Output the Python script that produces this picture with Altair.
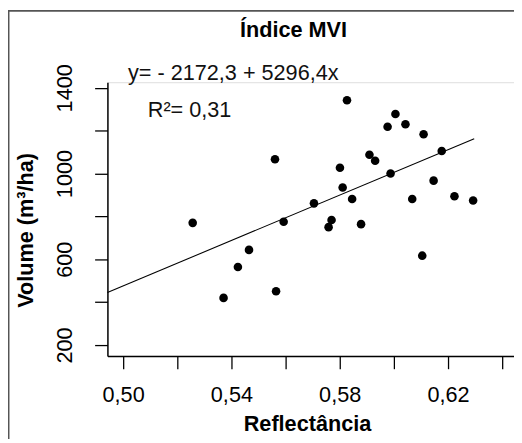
import altair as alt
import pandas as pd

# ---- data ----
reflectancia = [0.5257, 0.5371, 0.5424, 0.5465, 0.5561, 0.5565, 0.5593, 0.5705,
                0.5759, 0.5770, 0.5801, 0.5811, 0.5827, 0.5846, 0.5879, 0.5910,
                0.5931, 0.5977, 0.5988, 0.6006, 0.6043, 0.6068, 0.6105, 0.6110,
                0.6147, 0.6177, 0.6224, 0.6293]
volume = [770, 420, 564, 644, 1067, 451, 775, 861,
          750, 783, 1027, 935, 1342, 881, 764, 1088,
          1060, 1218, 1000, 1278, 1230, 881, 617, 1183,
          967, 1105, 894, 874]

intercept = -2172.3
slope = 5296.4
line_x = [0.4942, 0.6297]

x_ticks = [0.50, 0.52, 0.54, 0.56, 0.58, 0.60, 0.62, 0.64]
y_ticks = [200, 400, 600, 800, 1000, 1200, 1400]

title_text = "Índice MVI"
x_title = "Reflectância"
y_title = "Volume (m³/ha)"
eq_text = "y= - 2172,3 + 5296,4x"
r2_text = "R²= 0,31"

# ---- layout / style ----
FONT = "Liberation Sans"
X_DOMAIN = [0.4942, 0.6444]
Y_DOMAIN = [149.4, 1426]
W, H = 413, 278

pts = pd.DataFrame({"x": reflectancia, "y": volume})
fit = pd.DataFrame({"x": line_x, "y": [intercept + slope * v for v in line_x]})

xs = alt.Scale(domain=X_DOMAIN, nice=False, zero=False)
ys = alt.Scale(domain=Y_DOMAIN, nice=False, zero=False)

x_axis = alt.Axis(
    values=x_ticks, grid=False, tickSize=13, tickWidth=1.3, tickColor="black",
    domainColor="black", domainWidth=1.5, labelFont=FONT, labelFontSize=22,
    labelColor="black", labelPadding=16, labelFlush=False, labelOverlap=False,
    labelExpr="round(datum.value*50) % 2 == 1 ? replace(format(datum.value, '.2f'), '.', ',') : ''",
    title=x_title, titleFont=FONT, titleFontSize=22, titleFontWeight="bold",
    titleColor="black", titleX=202.7, titleY=76, titleAlign="center",
    titleBaseline="alphabetic", titleAnchor="start",
)
y_axis = alt.Axis(
    values=y_ticks, grid=False, tickSize=13, tickWidth=1.3, tickColor="black",
    domainColor="black", domainWidth=1.5, labelFont=FONT, labelFontSize=22,
    labelColor="black", labelAngle=270, labelAlign="center",
    labelBaseline="alphabetic", labelPadding=23, labelFlush=False,
    labelOverlap=False,
    labelExpr="round(datum.value/200) % 2 == 1 ? format(datum.value, 'd') : ''",
    title=y_title, titleFont=FONT, titleFontSize=22, titleFontWeight="bold",
    titleColor="black", titleAngle=270, titleX=-76, titleY=150,
    titleAlign="center", titleBaseline="alphabetic", titleAnchor="start",
)

points = alt.Chart(pts).mark_circle(size=76, color="black", opacity=1).encode(
    x=alt.X("x:Q", scale=xs, axis=x_axis),
    y=alt.Y("y:Q", scale=ys, axis=y_axis),
)

line = alt.Chart(fit).mark_line(color="black", strokeWidth=1.1).encode(
    x="x:Q", y="y:Q"
)

ann = pd.DataFrame({"x": [0.5018, 0.5091], "y": [1435, 1265], "t": [eq_text, r2_text]})
annot = alt.Chart(ann).mark_text(
    align="left", baseline="alphabetic", font=FONT, fontSize=22, color="#111111"
).encode(x="x:Q", y="y:Q", text="t:N")

title = alt.Chart(pd.DataFrame({"t": [title_text]})).mark_text(
    align="center", baseline="alphabetic", font=FONT, fontSize=22,
    fontWeight="bold", color="black"
).encode(x=alt.value(189), y=alt.value(-45.7), text="t:N")

frame_df = pd.DataFrame({"k": [0]})
top_border = alt.Chart(frame_df).mark_rule(color="#555555", strokeWidth=2).encode(
    x=alt.value(-101), x2=alt.value(W + 5), y=alt.value(-72.5)
)
left_border = alt.Chart(frame_df).mark_rule(color="#555555", strokeWidth=2).encode(
    x=alt.value(-100.5), y=alt.value(-73.5), y2=alt.value(H + 85)
)

chart = alt.layer(top_border, left_border, line, points, annot, title).properties(
    width=W, height=H,
    padding={"left": 101, "top": 72, "right": 0, "bottom": 81},
    autosize=alt.AutoSizeParams(type="none"),
).configure_view(stroke=None).configure(background="white")

chart.save("out.html", embed_options={"renderer": "svg", "actions": False})
